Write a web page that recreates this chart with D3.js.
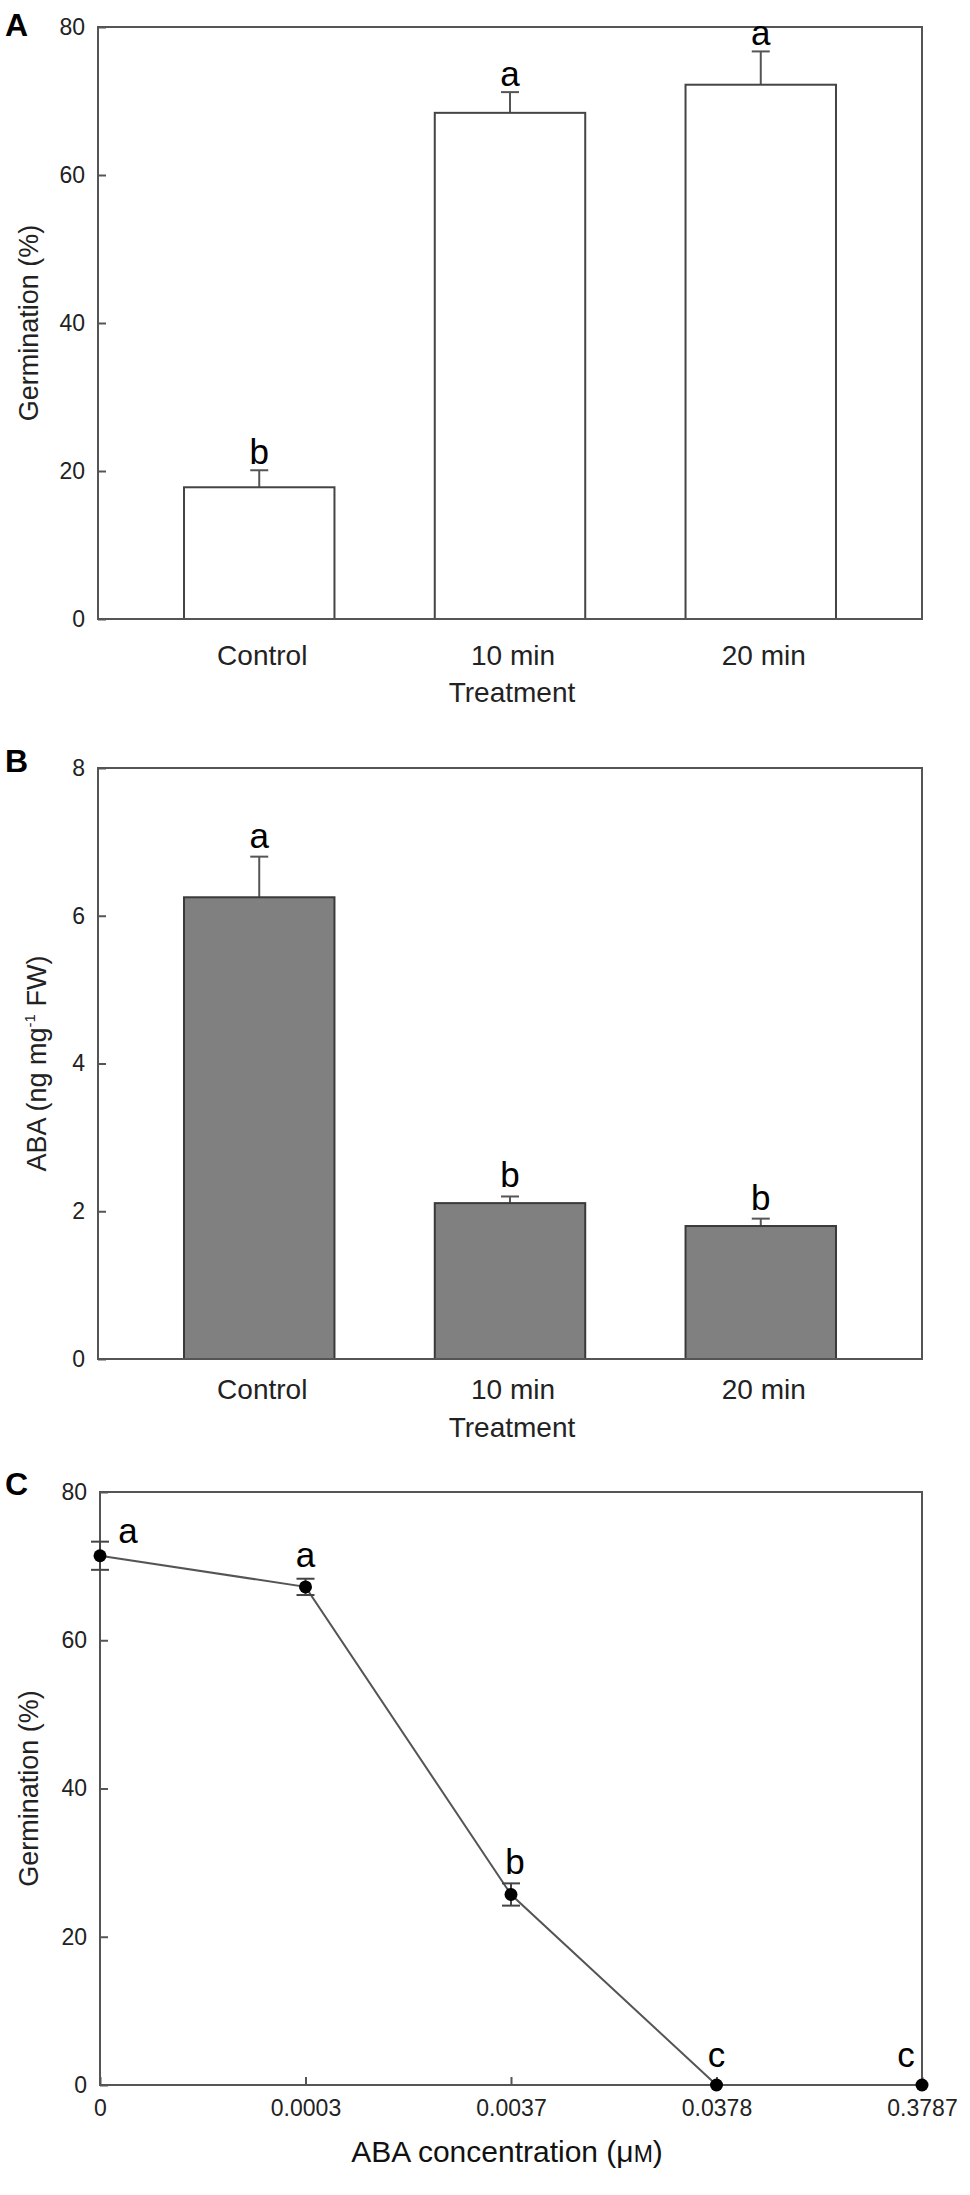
<!DOCTYPE html>
<html>
<head>
<meta charset="utf-8">
<script src="https://cdn.jsdelivr.net/npm/d3@7"></script>
<style>
  body { margin: 0; background: #fff; }
  text { font-family: "Liberation Sans", Arial, sans-serif; }
</style>
</head>
<body>
<div id="chart"></div>
<script>
// Values
const treatments = ["Control", "10 min", "20 min"];
const germinationMeans = [17.8, 68.4, 72.2];
const germinationErrors = [2.3, 2.8, 4.5];
const germinationLetters = ["b", "a", "a"];
const germinationTicks = [0, 20, 40, 60, 80];

const abaMeans = [6.25, 2.11, 1.80];
const abaErrors = [0.55, 0.09, 0.10];
const abaLetters = ["a", "b", "b"];
const abaTicks = [0, 2, 4, 6, 8];

const concentrations = ["0", "0.0003", "0.0037", "0.0378", "0.3787"];
const doseMeans = [71.4, 67.2, 25.7, 0, 0];
const doseErrors = [1.9, 1.1, 1.5, 0, 0];
const doseLetters = ["a", "a", "b", "c", "c"];

const LINE = '#555';

const svg = d3.select('#chart')
    .append('svg')
    .attr('width', 970)
    .attr('height', 2195);

// Box around a plot area
function drawFrame(box) {
    svg.append('rect')
        .attr('x', box.left)
        .attr('y', box.top)
        .attr('width', box.right - box.left)
        .attr('height', box.bottom - box.top)
        .attr('fill', 'none')
        .attr('stroke', LINE)
        .attr('stroke-width', 2);
}

// Left axis with inward ticks
function drawYAxis(box, y, ticks) {
    const g = svg.append('g')
        .attr('transform', `translate(${box.left},0)`)
        .call(d3.axisLeft(y).tickValues(ticks).tickSizeInner(-8).tickSizeOuter(0).tickPadding(13));
    g.select('.domain').remove();
    g.selectAll('.tick line').attr('stroke', LINE).attr('stroke-width', 2);
    g.selectAll('.tick text')
        .attr('fill', '#222')
        .style('font-size', '23px')
        .style('font-family', '"Liberation Sans", Arial, sans-serif');
}

function panelLetter(label, baseline) {
    svg.append('text')
        .attr('x', 5)
        .attr('y', baseline)
        .text(label)
        .style('font-size', '32px')
        .style('font-weight', 'bold')
        .attr('fill', '#000');
}

function yTitle(box, x, build) {
    const t = svg.append('text')
        .attr('transform', `translate(${x},${(box.top + box.bottom) / 2}) rotate(-90)`)
        .attr('text-anchor', 'middle')
        .attr('fill', '#222')
        .style('font-size', '27px');
    build(t);
}

// Bar chart panel (A and B)
function drawBarPanel(p) {
    const box = p.box;
    const x = d3.scaleBand()
        .domain(treatments)
        .range([box.left, box.right])
        .paddingInner(0.4)
        .paddingOuter(0.343);
    const y = d3.scaleLinear()
        .domain([0, p.ticks[p.ticks.length - 1]])
        .range([box.bottom, box.top]);

    const rows = treatments.map((t, i) => ({ t, m: p.means[i], e: p.errors[i], l: p.letters[i] }));

    // error bars (upper only)
    const eb = svg.append('g').attr('stroke', LINE).attr('stroke-width', 2);
    eb.selectAll('.stem').data(rows).enter().append('line')
        .attr('x1', d => x(d.t) + x.bandwidth() / 2)
        .attr('x2', d => x(d.t) + x.bandwidth() / 2)
        .attr('y1', d => y(d.m))
        .attr('y2', d => y(d.m + d.e));
    eb.selectAll('.cap').data(rows).enter().append('line')
        .attr('x1', d => x(d.t) + x.bandwidth() / 2 - 9)
        .attr('x2', d => x(d.t) + x.bandwidth() / 2 + 9)
        .attr('y1', d => y(d.m + d.e))
        .attr('y2', d => y(d.m + d.e));

    svg.append('g').selectAll('rect').data(rows).enter().append('rect')
        .attr('x', d => x(d.t))
        .attr('y', d => y(d.m))
        .attr('width', x.bandwidth())
        .attr('height', d => y(0) - y(d.m))
        .attr('fill', p.fill)
        .attr('stroke', p.stroke)
        .attr('stroke-width', 2);

    drawFrame(box);
    drawYAxis(box, y, p.ticks);

    // significance letters
    svg.append('g').selectAll('text').data(rows).enter().append('text')
        .attr('x', d => x(d.t) + x.bandwidth() / 2)
        .attr('y', d => y(d.m + d.e) - p.letterGap)
        .attr('text-anchor', 'middle')
        .style('font-size', '35px')
        .attr('fill', '#000')
        .text(d => d.l);

    // category labels
    const xa = svg.append('g')
        .attr('transform', `translate(3,${box.bottom})`)
        .call(d3.axisBottom(x).tickSize(0).tickPadding(p.labelPad));
    xa.select('.domain').remove();
    xa.selectAll('.tick text')
        .attr('fill', '#222')
        .style('font-size', '28px')
        .style('font-family', '"Liberation Sans", Arial, sans-serif');

    svg.append('text')
        .attr('x', (box.left + box.right) / 2 + 2)
        .attr('y', box.bottom + p.titlePad)
        .attr('text-anchor', 'middle')
        .attr('fill', '#222')
        .style('font-size', '28px')
        .text('Treatment');
}

// Panel A
const boxA = { left: 98, right: 922, top: 27, bottom: 619 };
drawBarPanel({
    box: boxA, ticks: germinationTicks,
    means: germinationMeans, errors: germinationErrors, letters: germinationLetters,
    fill: '#fff', stroke: '#444', letterGap: 6, labelPad: 26, titlePad: 83
});
panelLetter('A', 36);
yTitle(boxA, 38, t => t.text('Germination (%)'));

// Panel B
const boxB = { left: 98, right: 922, top: 768, bottom: 1359 };
drawBarPanel({
    box: boxB, ticks: abaTicks,
    means: abaMeans, errors: abaErrors, letters: abaLetters,
    fill: '#808080', stroke: '#3a3a3a', letterGap: 9, labelPad: 20, titlePad: 78
});
panelLetter('B', 772);
yTitle(boxB, 46, t => {
    t.append('tspan').text('ABA (ng mg');
    t.append('tspan').attr('dy', -11).style('font-size', '15px').text('-1');
    t.append('tspan').attr('dy', 11).text(' FW)');
});

// Panel C: dose response line
const boxC = { left: 100, right: 922, top: 1492, bottom: 2085 };
(function drawDosePanel() {
    const box = boxC;
    const x = d3.scalePoint()
        .domain(concentrations)
        .range([box.left, box.right])
        .padding(0);
    const y = d3.scaleLinear()
        .domain([0, 80])
        .range([box.bottom, box.top]);

    const pts = concentrations.map((c, i) => ({ c, m: doseMeans[i], e: doseErrors[i], l: doseLetters[i] }));

    drawFrame(box);
    drawYAxis(box, y, germinationTicks);

    const xa = svg.append('g')
        .attr('transform', `translate(0,${box.bottom})`)
        .call(d3.axisBottom(x).tickSizeInner(-8).tickSizeOuter(0).tickPadding(15));
    xa.select('.domain').remove();
    xa.selectAll('.tick line').attr('stroke', LINE).attr('stroke-width', 2);
    xa.selectAll('.tick text')
        .attr('fill', '#222')
        .style('font-size', '23px')
        .style('font-family', '"Liberation Sans", Arial, sans-serif');

    const line = d3.line().x(d => x(d.c)).y(d => y(d.m));
    svg.append('path')
        .datum(pts)
        .attr('d', line)
        .attr('fill', 'none')
        .attr('stroke', LINE)
        .attr('stroke-width', 2);

    // error bars with caps both ends
    const withErr = pts.filter(d => d.e > 0);
    const eb = svg.append('g').attr('stroke', '#444').attr('stroke-width', 2);
    eb.selectAll('.stem').data(withErr).enter().append('line')
        .attr('x1', d => x(d.c)).attr('x2', d => x(d.c))
        .attr('y1', d => y(d.m - d.e)).attr('y2', d => y(d.m + d.e));
    eb.selectAll('.capTop').data(withErr).enter().append('line')
        .attr('x1', d => x(d.c) - 9).attr('x2', d => x(d.c) + 9)
        .attr('y1', d => y(d.m + d.e)).attr('y2', d => y(d.m + d.e));
    eb.selectAll('.capBottom').data(withErr).enter().append('line')
        .attr('x1', d => x(d.c) - 9).attr('x2', d => x(d.c) + 9)
        .attr('y1', d => y(d.m - d.e)).attr('y2', d => y(d.m - d.e));

    svg.append('g').selectAll('circle').data(pts).enter().append('circle')
        .attr('cx', d => x(d.c))
        .attr('cy', d => y(d.m))
        .attr('r', 6.5)
        .attr('fill', '#000');

    // letter placement tweaks (dx, dy from top of error bar)
    const letterShift = [[28, 1], [0, -12], [4, -9], [0, -18], [-16, -18]];
    svg.append('g').selectAll('text').data(pts).enter().append('text')
        .attr('x', (d, i) => x(d.c) + letterShift[i][0])
        .attr('y', (d, i) => y(d.m + d.e) + letterShift[i][1])
        .attr('text-anchor', 'middle')
        .style('font-size', '35px')
        .attr('fill', '#000')
        .text(d => d.l);

    const title = svg.append('text')
        .attr('x', (box.left + box.right) / 2 - 4)
        .attr('y', 2162)
        .attr('text-anchor', 'middle')
        .attr('fill', '#111')
        .style('font-size', '30px')
        .text('ABA concentration (μ');
    title.append('tspan').style('font-size', '23px').text('M');
    title.append('tspan').text(')');
})();
panelLetter('C', 1495);
yTitle(boxC, 38, t => t.text('Germination (%)'));
</script>
</body>
</html>
